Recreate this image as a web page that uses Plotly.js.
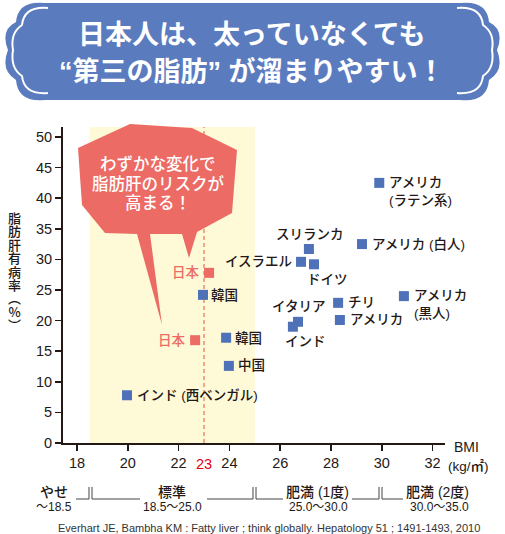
<!DOCTYPE html>
<html>
<head>
<meta charset="utf-8">
<script src="https://cdn.plot.ly/plotly-3.0.1.min.js"></script>
<style>
html, body { margin: 0; padding: 0; background: #fff; }
</style>
</head>
<body>
<div id="chart" style="width:505px;height:534px;"></div>
<script>
// countries (blue squares): label, BMI, fatty liver prevalence (%)
var countries = [
    "アメリカ<br>(ラテン系)",
    "スリランカ",
    "イスラエル",
    "ドイツ",
    "アメリカ (白人)",
    "アメリカ<br>(黒人)",
    "チリ",
    "アメリカ",
    "イタリア",
    "インド",
    "韓国",
    "韓国",
    "中国",
    "インド (西ベンガル)",
];
var bmi = [29.9, 27.13, 26.82, 27.33, 29.22, 30.87, 28.28, 28.35, 26.7, 26.5, 22.96, 23.87, 23.98, 19.97];
var rate = [42.5, 31.7, 29.6, 29.2, 32.5, 24.0, 22.9, 20.1, 19.8, 19.0, 24.2, 17.2, 12.6, 7.8];

// Japan (red squares)
var japan_names = ["日本", "日本"];
var japan_bmi = [23.2, 22.65];
var japan_rate = [27.8, 16.8];

var x_ticks = [18, 20, 22, 24, 26, 28, 30, 32];
var y_ticks = [0, 5, 10, 15, 20, 25, 30, 35, 40, 45, 50];
var bmi_mark = 23;
var normal_low = 18.5;
var normal_high = 25.0;

var band_names = ["やせ", "標準", "肥満 (1度)", "肥満 (2度)"];
var band_ranges = ["～18.5", "18.5～25.0", "25.0～30.0", "30.0～35.0"];

var title_lines = ["日本人は、太っていなくても", "“第三の脂肪” が溜まりやすい！"];
var bubble_lines = ["わずかな変化で", "脂肪肝のリスクが", "高まる！"];
var y_title = ["脂", "肪", "肝", "有", "病", "率", "︵", "%", "︶"];
var source = "Everhart JE, Bambha KM : Fatty liver ; think globally. Hepatology 51 ; 1491-1493, 2010";

// label placement: [xanchor, xshift, yshift] (pixels)
var label_pos = [
    ["left", 8, -9],
    ["center", 1, 14],
    ["right", -7, 0],
    ["center", 14, -15],
    ["left", 8, 0],
    ["left", 8, -8],
    ["left", 8, 0],
    ["left", 8, 0],
    ["center", 1, 15],
    ["center", 13, -15],
    ["left", 6, 0],
    ["left", 7, 0],
    ["left", 7, 0],
    ["left", 8, 0],
];

// plot area in page pixels
var L = 63, R = 445, T = 127, B = 443;
function px(x) { return (x - L) / (R - L); }
function py(y) { return (B - y) / (B - T); }
function to_paper(d) {
    return d.replace(/(-?[\d.]+),(-?[\d.]+)/g, function (m, a, b) {
        return px(parseFloat(a)).toFixed(5) + "," + py(parseFloat(b)).toFixed(5);
    });
}
function mirror(d) {
    return d.replace(/(-?[\d.]+),(-?[\d.]+)/g, function (m, a, b) {
        return (505 - parseFloat(a)) + "," + b;
    });
}
// text placed at page pixel position
function page_text(x, y, text, font, xanchor) {
    return {
        x: px(x), y: py(y), xref: "paper", yref: "paper",
        xanchor: xanchor || "center", yanchor: "middle",
        text: text, showarrow: false, font: font,
    };
}

var ink = "#231815";
var blue = "#4f71b8";
var red = "#ec6b64";
var jp = "Liberation Sans, Noto Sans CJK JP, sans-serif";

var trace_blue = {
    type: "scatter",
    mode: "markers",
    x: bmi,
    y: rate,
    marker: { symbol: "square", size: 10, color: blue },
    hoverinfo: "none",
    cliponaxis: false,
};
var trace_red = {
    type: "scatter",
    mode: "markers",
    x: japan_bmi,
    y: japan_rate,
    marker: { symbol: "square", size: 10, color: red },
    hoverinfo: "none",
    cliponaxis: false,
};

var annotations = [];

for (var i = 0; i < countries.length; i++) {
    annotations.push({
        x: bmi[i], y: rate[i], xref: "x", yref: "y",
        text: countries[i], showarrow: false,
        xanchor: label_pos[i][0], yanchor: "middle", align: "left",
        xshift: label_pos[i][1], yshift: label_pos[i][2],
        font: { family: jp, size: 13.5, color: ink, weight: 500 },
    });
}
for (var i = 0; i < japan_names.length; i++) {
    annotations.push({
        x: japan_bmi[i], y: japan_rate[i], xref: "x", yref: "y",
        text: japan_names[i], showarrow: false,
        xanchor: "right", yanchor: "middle", xshift: -7,
        font: { family: jp, size: 13.5, color: red, weight: 500 },
    });
}

// red 23 tick label
annotations.push({
    x: bmi_mark, y: 0, xref: "x", yref: "paper",
    text: String(bmi_mark), showarrow: false,
    xanchor: "center", yanchor: "top", yshift: -11,
    font: { family: "Liberation Sans", size: 14.5, color: "#e60012" },
});

// axis titles
annotations.push(page_text(452, 447, "BMI", { family: jp, size: 14, color: ink, weight: 500 }, "left"));
annotations.push(page_text(446, 466, "(kg/㎡)", { family: jp, size: 13.5, color: ink, weight: 500 }, "left"));
// vertical y title: small base size keeps the lines tight, each char drawn at 13px
var y_title_text = y_title.map(function (c) {
    return '<span style="font-size:13px">' + c + "</span>";
}).join("<br>");
annotations.push(page_text(14, 271, y_title_text,
    { family: "Noto Sans CJK JP", size: 10.3, color: ink, weight: 500 }));

// title banner text
for (var i = 0; i < title_lines.length; i++) {
    annotations.push(page_text(252, 35 + i * 37, title_lines[i],
        { family: jp, size: 27, color: "#ffffff", weight: "bold" }));
}

// bubble text
for (var i = 0; i < bubble_lines.length; i++) {
    annotations.push(page_text(158, 164 + i * 19.5, bubble_lines[i],
        { family: jp, size: 16.5, color: "#ffffff", weight: 500 }));
}

// BMI bands
var band_x = [54, 172, 317, 437];
var range_x = [54, 172, 318, 439];
for (var i = 0; i < band_names.length; i++) {
    annotations.push(page_text(band_x[i], 492, band_names[i], { family: jp, size: 14, color: ink, weight: 500 }));
    annotations.push(page_text(range_x[i], 507, band_ranges[i], { family: jp, size: 12, color: ink }));
}

annotations.push(page_text(269, 528, source, { family: "Liberation Sans", size: 11, color: "#333333" }));

var banner = "M 45,3 L 460,3 Q 487,0 489,22 Q 505,30 497,50 Q 505,70 489,80 Q 487,103 460,100 " +
    "L 45,100 Q 18,103 16,80 Q 0,70 8,50 Q 0,30 16,22 Q 18,0 45,3 Z";
var banner_line = "M 48,8 Q 24,6 22,25 Q 10,33 13,50 Q 10,68 22,76 Q 24,95 48,93";
var bubble = "M 130,124 L 192,128 L 237,150 L 232,213 L 197,232 L 189,258 L 182,234 L 150,234 " +
    "L 162,325 L 137,234 L 105,233 L 82,205 L 78,148 Z";
var brackets = "M 76,499 L 89,499 L 89,487 M 92,487 L 92,499 L 140,499 " +
    "M 207,499 L 253,499 L 253,487 M 256,487 L 256,499 L 283,499 " +
    "M 352,499 L 379,499 L 379,487 M 382,487 L 382,499 L 403,499";

var shapes = [
    {
        type: "rect", xref: "x", yref: "paper", x0: normal_low, x1: normal_high, y0: 0, y1: 1,
        fillcolor: "#fef9d7", line: { width: 0 }, layer: "below",
    },
    {
        type: "line", xref: "x", yref: "paper", x0: bmi_mark, x1: bmi_mark, y0: 0, y1: 1,
        line: { color: "#f08c6e", width: 1.5, dash: "4px,3px" }, layer: "below",
    },
    {
        type: "path", xref: "paper", yref: "paper", path: to_paper(bubble),
        fillcolor: red, line: { width: 0 }, layer: "above",
    },
    {
        type: "path", xref: "paper", yref: "paper", path: to_paper(banner),
        fillcolor: "#5b7bbf", line: { width: 0 }, layer: "above",
    },
    {
        type: "path", xref: "paper", yref: "paper", path: to_paper(banner_line),
        line: { color: "#ffffff", width: 2 }, layer: "above",
    },
    {
        type: "path", xref: "paper", yref: "paper", path: to_paper(mirror(banner_line)),
        line: { color: "#ffffff", width: 2 }, layer: "above",
    },
    {
        type: "path", xref: "paper", yref: "paper", path: to_paper(brackets),
        line: { color: "#444444", width: 1 }, layer: "above",
    },
];

var layout = {
    width: 505,
    height: 534,
    margin: { l: L, r: 505 - R, t: T, b: 534 - B, pad: 0 },
    paper_bgcolor: "#ffffff",
    plot_bgcolor: "#ffffff",
    showlegend: false,
    hovermode: false,
    xaxis: {
        range: [17.449, 32.488],
        tickvals: x_ticks,
        ticks: "outside",
        ticklen: 6,
        tickwidth: 1.5,
        tickcolor: ink,
        showline: true,
        linecolor: ink,
        linewidth: 2,
        showgrid: false,
        zeroline: false,
        tickfont: { family: "Liberation Sans", size: 14.5, color: ink },
    },
    yaxis: {
        range: [0, 51.63],
        tickvals: y_ticks,
        ticks: "outside",
        ticklen: 6,
        tickwidth: 1.5,
        tickcolor: ink,
        showline: true,
        linecolor: ink,
        linewidth: 2,
        showgrid: false,
        zeroline: false,
        tickfont: { family: "Liberation Sans", size: 14.5, color: ink },
    },
    shapes: shapes,
    annotations: annotations,
};

Plotly.newPlot("chart", [trace_blue, trace_red], layout, { displayModeBar: false, staticPlot: true });
</script>
</body>
</html>
